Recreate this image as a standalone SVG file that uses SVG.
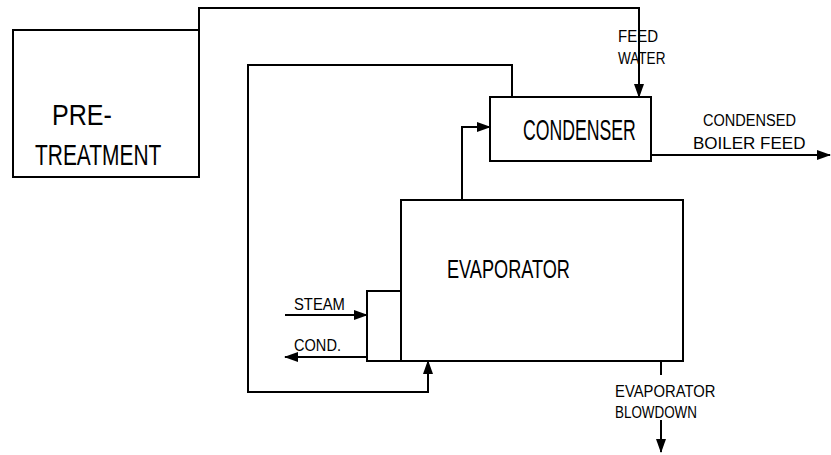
<svg xmlns="http://www.w3.org/2000/svg" width="831" height="455" viewBox="0 0 831 455">
<style>
.box{fill:none;stroke:#000;stroke-width:2}
.ln{fill:none;stroke:#000;stroke-width:2}
text{font-family:"Liberation Sans",Arial,sans-serif;fill:#000}
.big{font-size:30px}
.mid{font-size:26px}
.sm{font-size:17px}
</style>
<defs>
<marker id="ah" markerUnits="userSpaceOnUse" markerWidth="14" markerHeight="10" refX="13" refY="5" orient="auto">
<path d="M0,0 L14,5 L0,10 Z" fill="#000"/>
</marker>
</defs>
<rect width="831" height="455" fill="#fff"/>
<g id="pretreatment">
<rect class="box" x="13" y="30" width="186" height="147"/>
<text class="big" transform="matrix(0.837,0,0,1,52,125)">PRE-</text>
<text class="big" transform="matrix(0.698,0,0,1,35,165)">TREATMENT</text>
</g>
<g id="condenser">
<rect class="box" x="490" y="97" width="161" height="64"/>
<text class="big" transform="matrix(0.589,0,0,1,523,140)">CONDENSER</text>
</g>
<g id="evaporator">
<rect class="box" x="401" y="200" width="282" height="161"/>
<text class="mid" transform="matrix(0.698,0,0,1,447,278)">EVAPORATOR</text>
</g>
<g id="heater">
<rect class="box" x="367" y="291" width="34" height="70"/>
</g>
<g id="connectors">
<path class="ln" d="M199,30 V8 H639 V97" marker-end="url(#ah)"/>
<path class="ln" d="M512,97 V65 H248 V392 H428 V361" marker-end="url(#ah)"/>
<path class="ln" d="M462,200 V127 H490" marker-end="url(#ah)"/>
<path class="ln" d="M651,155 H830" marker-end="url(#ah)"/>
<path class="ln" d="M285,315 H367" marker-end="url(#ah)"/>
<path class="ln" d="M367,357 H285" marker-end="url(#ah)"/>
<path class="ln" d="M661,361 V375"/>
<path class="ln" d="M661,420 V452" marker-end="url(#ah)"/>
</g>
<g id="labels">
<text class="sm" transform="matrix(0.883,0,0,1,618,42)">FEED</text>
<text class="sm" transform="matrix(0.798,0,0,1,618,64)">WATER</text>
<text class="sm" transform="matrix(0.856,0,0,1,703,126)">CONDENSED</text>
<text class="sm" transform="matrix(1.0,0,0,1,693,149)">BOILER FEED</text>
<text class="sm" transform="matrix(0.870,0,0,1,294,310)">STEAM</text>
<text class="sm" transform="matrix(0.858,0,0,1,294,351)">COND.</text>
<text class="sm" transform="matrix(0.872,0,0,1,615,397)">EVAPORATOR</text>
<text class="sm" transform="matrix(0.79,0,0,1,615,418)">BLOWDOWN</text>
</g>
</svg>
